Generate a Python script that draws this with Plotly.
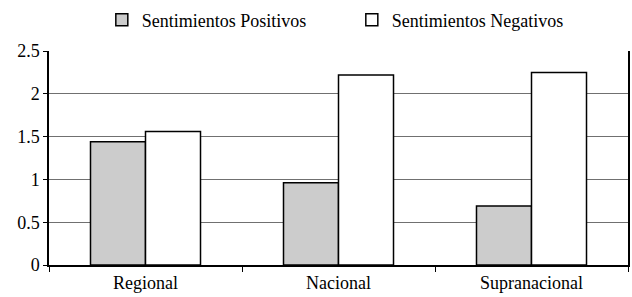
import plotly.graph_objects as go

categories = ["Regional", "Nacional", "Supranacional"]
positivos = [1.44, 0.96, 0.69]
negativos = [1.56, 2.22, 2.25]
series_names = ["Sentimientos Positivos", "Sentimientos Negativos"]
y_ticks = [0, 0.5, 1, 1.5, 2, 2.5]
y_ticktext = ["0", "0.5", "1", "1.5", "2", "2.5"]

fig = go.Figure()
fig.add_trace(go.Bar(x=categories, y=positivos, name=series_names[0],
                     marker=dict(color="#cccccc", line=dict(color="black", width=1.5))))
fig.add_trace(go.Bar(x=categories, y=negativos, name=series_names[1],
                     marker=dict(color="white", line=dict(color="black", width=1.5))))

FAM = "Liberation Serif"
font = dict(family=FAM, size=18, color="black")
fig.update_layout(
    width=632, height=297,
    margin=dict(l=49, r=4, t=51, b=32, autoexpand=False),
    paper_bgcolor="white", plot_bgcolor="white",
    font=font,
    barmode="group", bargap=0.43, bargroupgap=0,
    showlegend=True,
    legend=dict(orientation="h", x=0.523, xanchor="center", y=0.995, yanchor="top",
                yref="container", font=dict(family=FAM, size=18, color="black"),
                itemwidth=30, traceorder="normal", entrywidth=205,
                bgcolor="rgba(0,0,0,0)"),
)
fig.update_xaxes(showline=True, linecolor="black", linewidth=2, ticks="outside",
                 tickson="boundaries", ticklen=5, tickcolor="black", showgrid=False,
                 tickfont=font, automargin=False)
fig.update_yaxes(range=[0, 2.5], tickvals=y_ticks, ticktext=y_ticktext,
                 showline=True, linecolor="black", linewidth=1.5, mirror=True,
                 ticks="outside", ticklen=4, tickcolor="black",
                 showgrid=True, gridcolor="#707070", gridwidth=1, zeroline=False,
                 tickfont=font, automargin=False)

fig.write_html("out.html", config={"displayModeBar": False},
               post_script="document.body.style.margin='0';document.body.style.overflow='hidden';")
